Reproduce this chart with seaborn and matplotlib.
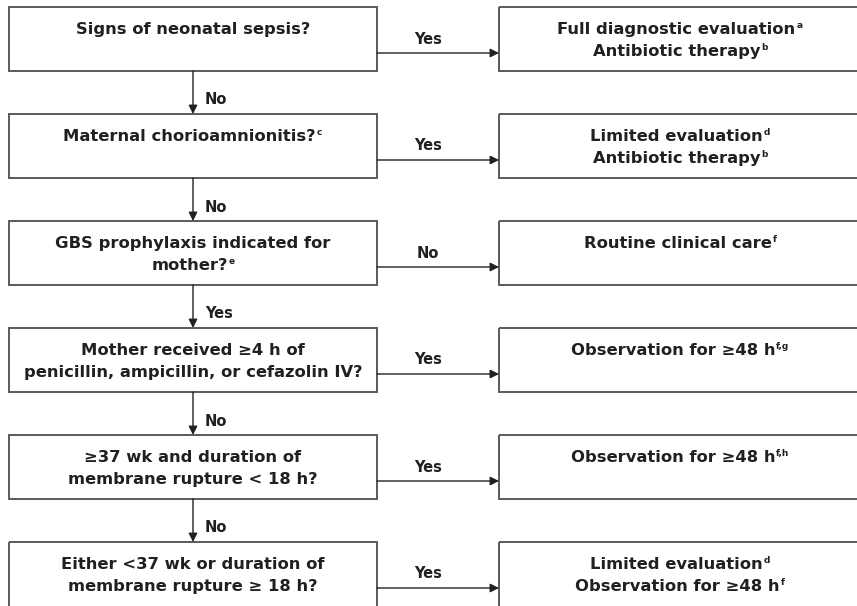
import matplotlib
matplotlib.use("Agg")
import matplotlib.pyplot as plt
import seaborn as sns
from matplotlib.patches import Rectangle

# flowchart content ("^" marks a superscript)
questions = [
    ["Signs of neonatal sepsis?"],
    ["Maternal chorioamnionitis?^c"],
    ["GBS prophylaxis indicated for", "mother?^e"],
    ["Mother received \u22654 h of", "penicillin, ampicillin, or cefazolin IV?"],
    ["\u226537 wk and duration of", "membrane rupture < 18 h?"],
    ["Either <37 wk or duration of", "membrane rupture \u2265 18 h?"],
]
actions = [
    ["Full diagnostic evaluation^a", "Antibiotic therapy^b"],
    ["Limited evaluation^d", "Antibiotic therapy^b"],
    ["Routine clinical care^f"],
    ["Observation for \u226548 h^f,g"],
    ["Observation for \u226548 h^f,h"],
    ["Limited evaluation^d", "Observation for \u226548 h^f"],
]
side_labels = ["Yes", "Yes", "No", "Yes", "Yes", "Yes"]
down_labels = ["No", "No", "Yes", "No", "No"]

sns.set_theme(style="white")
plt.rcParams["font.family"] = ["DejaVu Sans"]

ink = "#231f20"
edge = "#5a5a5a"

# layout in pixels
top0, step, box_h = 7, 107, 64
lx0, lx1 = 9, 377
rx0, rx1 = 499, 870
fs = 11.8
sup_fs = 6.5

fig = plt.figure(figsize=(8.57, 6.06), dpi=100)
ax = fig.add_axes([0, 0, 1, 1])
ax.set_xlim(0, 857)
ax.set_ylim(606, 0)
ax.axis("off")
renderer = fig.canvas.get_renderer()


def width_of(t):
    bb = t.get_window_extent(renderer)
    return bb.width


def put_line(cx, y, line):
    main, _, sup = line.partition("^")
    t = ax.text(cx, y, main, ha="left", va="baseline", fontsize=fs,
                fontweight="bold", color=ink)
    wm = width_of(t)
    ws = 0
    s = None
    if sup:
        s = ax.text(cx, y - 6, sup, ha="left", va="baseline", fontsize=sup_fs,
                    fontweight="bold", color=ink)
        ws = width_of(s) + 1
    x0 = cx - (wm + ws) / 2
    t.set_x(x0)
    if s is not None:
        s.set_x(x0 + wm + 1)


def put_block(cx, top, lines):
    for k, line in enumerate(lines):
        put_line(cx, top + 27 + k * 22, line)


for i, (q, a) in enumerate(zip(questions, actions)):
    top = top0 + i * step
    h = box_h if i < len(questions) - 1 else box_h + 30
    ax.add_patch(Rectangle((lx0, top), lx1 - lx0, h, fill=False, ec=edge, lw=1.4))
    ax.add_patch(Rectangle((rx0, top), rx1 - rx0, h, fill=False, ec=edge, lw=1.4))

    put_block((lx0 + lx1) / 2, top, q)
    put_block(680, top, a)

    # horizontal arrow
    ay = top + 46
    ax.annotate("", xy=(rx0, ay), xytext=(lx1, ay),
                arrowprops=dict(arrowstyle="-|>", mutation_scale=13, lw=1.0,
                                color=ink, shrinkA=0, shrinkB=0))
    ax.text(428, top + 32, side_labels[i], ha="center", va="center",
            fontsize=10.5, fontweight="bold", color=ink)

    # vertical arrow
    if i < len(down_labels):
        bot = top + box_h
        ax.annotate("", xy=(193, top + step), xytext=(193, bot),
                    arrowprops=dict(arrowstyle="-|>", mutation_scale=13, lw=1.0,
                                    color=ink, shrinkA=0, shrinkB=0))
        ax.text(205, bot + 29, down_labels[i], ha="left", va="center",
                fontsize=10.5, fontweight="bold", color=ink)

fig.savefig("out.png", dpi=100, facecolor="white")
